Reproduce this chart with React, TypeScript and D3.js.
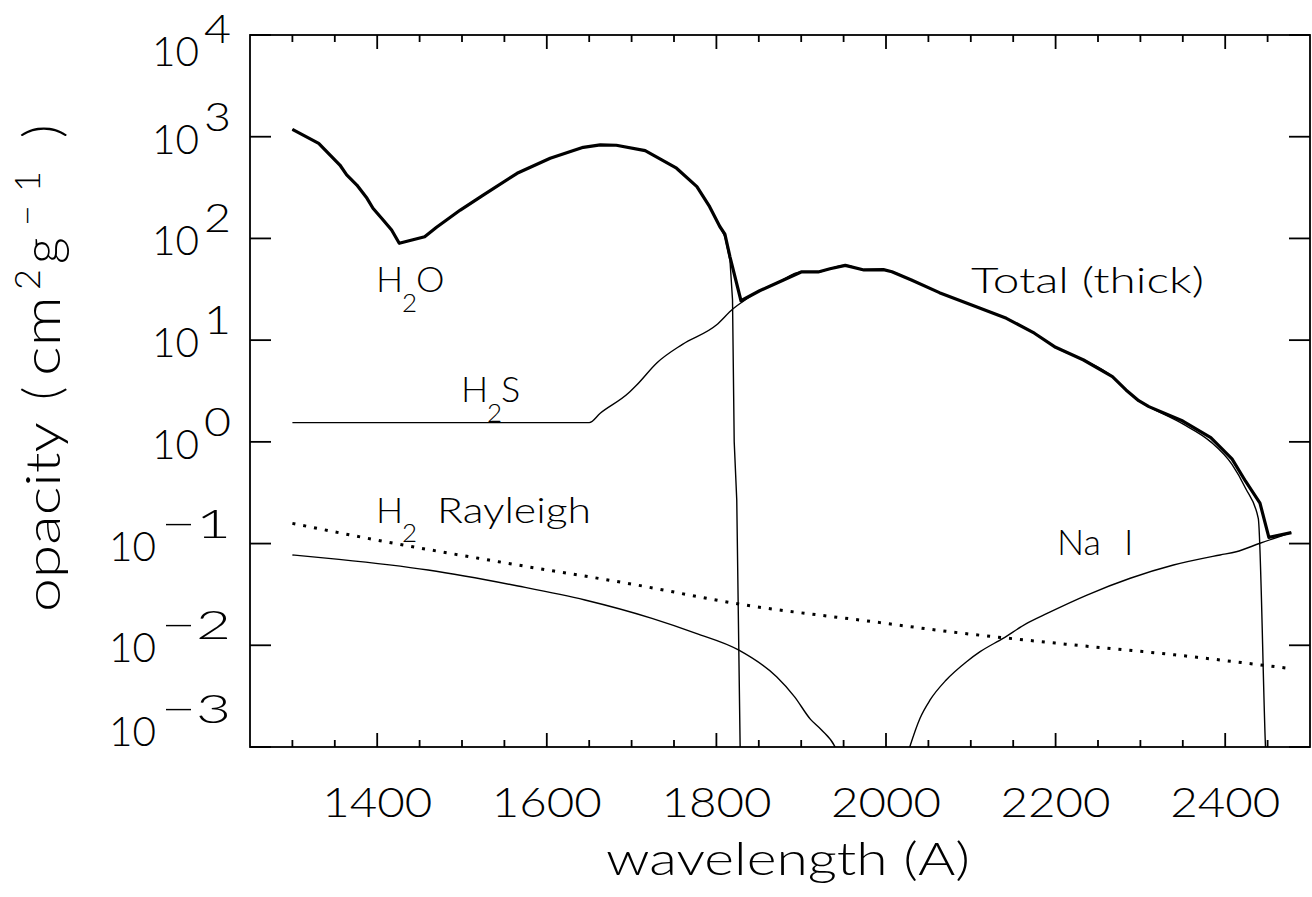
import React from "react";
import * as d3 from "d3";

// ---------- data ----------
const h2oWave = [1300, 1331, 1356, 1364, 1376, 1388, 1395, 1407, 1417, 1426, 1456, 1470, 1498, 1525, 1565, 1604, 1643, 1663, 1682, 1716, 1753, 1777, 1792, 1804, 1810, 1816, 1819, 1821, 1824, 1828, 1830];
const h2oVal = [1183, 861, 527, 421, 335, 248, 198, 152, 121, 89.6, 104, 129, 190, 267, 437, 614, 787, 830, 824, 729, 490, 323, 205, 131, 104, 61, 25, 1.0, 0.27, 0.001, 0.0004];

const h2sWave = [1300, 1650, 1663, 1696, 1706, 1730, 1760, 1800, 1820, 1831, 1851, 1872, 1900, 1920, 1934, 1952, 1974, 1997, 2007, 2030, 2063, 2101, 2142, 2175, 2200, 2233, 2267, 2283, 2298, 2310, 2350, 2383, 2408, 2424, 2439, 2447.5, 2449];
const h2sVal = [1.545, 1.545, 1.91, 3.0, 3.62, 6.0, 9.1, 14.1, 20.5, 23.9, 30.6, 36.7, 46.8, 46.8, 50.4, 54.4, 49, 49.3, 47.1, 39, 29.3, 22.2, 16.4, 11.7, 8.5, 6.38, 4.37, 3.24, 2.54, 2.22, 1.5, 1.0, 0.6, 0.35, 0.177, 0.001, 0.0005];

const naWave = [1300, 1355, 1460, 1566, 1645, 1724, 1776, 1826, 1871, 1892, 1911, 1924, 1940, 1950, 2020, 2028, 2040, 2052, 2071, 2095, 2111, 2138, 2166, 2190, 2237, 2288, 2339, 2394, 2413, 2441, 2478];
const naVal = [0.0773, 0.070, 0.055, 0.0383, 0.0279, 0.0184, 0.0131, 0.0090, 0.0049, 0.00313, 0.00187, 0.00147, 0.001, 0.0006, 0.0006, 0.001, 0.00191, 0.0029, 0.00456, 0.0069, 0.00865, 0.0117, 0.0164, 0.0206, 0.0312, 0.0456, 0.0615, 0.0773, 0.083, 0.1007, 0.128];

const rayWave = [1300, 1400, 1566, 1700, 1826, 1993, 2075, 2200, 2350, 2474];
const rayVal = [0.158, 0.108, 0.0615, 0.040, 0.0255, 0.0167, 0.0136, 0.0105, 0.0079, 0.00594];

const totWave = [1300, 1331, 1356, 1364, 1376, 1388, 1395, 1407, 1417, 1426, 1456, 1470, 1498, 1525, 1565, 1604, 1643, 1663, 1682, 1716, 1753, 1777, 1792, 1804, 1810, 1816, 1829, 1851, 1872, 1900, 1920, 1934, 1952, 1974, 1997, 2007, 2030, 2063, 2101, 2142, 2175, 2200, 2233, 2267, 2283, 2298, 2310, 2350, 2383, 2408, 2424, 2441, 2451.5, 2478];
const totVal = [1183, 861, 527, 421, 335, 248, 198, 152, 121, 89.6, 104, 129, 190, 267, 437, 614, 787, 830, 824, 729, 490, 323, 205, 131, 110, 66, 24.4, 30.6, 36.7, 46.8, 46.8, 50.4, 54.4, 49, 49.3, 47.1, 39, 29.3, 22.2, 16.4, 11.7, 8.5, 6.38, 4.37, 3.24, 2.54, 2.22, 1.6, 1.1, 0.68, 0.41, 0.25, 0.115, 0.128];

const xMajorTicks = [1400, 1600, 1800, 2000, 2200, 2400];
const yExponents = [-3, -2, -1, 0, 1, 2, 3, 4];

// ---------- layout ----------
const W = 1312, H = 897;
const L = 250, R = 1310, T = 35, B = 747;
const FONT = 'Lato, "DejaVu Sans", sans-serif';

export default function App() {
  const x = d3.scaleLinear().domain([1250, 2500]).range([L, R]);
  const y = d3.scaleLog().domain([1e-3, 1e4]).range([B, T]);
  const line = (ws: number[], vs: number[], curve: d3.CurveFactory = d3.curveLinear) =>
    d3.line<number>().curve(curve).x((i) => x(ws[i])).y((i) => y(vs[i]))(ws.map((_, i) => i)) || "";

  const minorTicks = d3.range(1300, 2500, 50).filter((v) => !xMajorTicks.includes(v));

  return (
    <svg width={W} height={H} style={{ display: "block", position: "absolute", left: 0, top: 0, background: "#fff" }}
      fontFamily={FONT} fontWeight={300}>
      <defs>
        <clipPath id="plot">
          <rect x={L} y={T} width={R - L} height={B - T} />
        </clipPath>
      </defs>
      <rect x={0} y={0} width={W} height={H} fill="#fff" />
      <g clipPath="url(#plot)" fill="none" stroke="#000" strokeLinejoin="round">
        <path d={line(naWave, naVal, d3.curveMonotoneX)} strokeWidth={1.4} />
        <path d={line(rayWave, rayVal, d3.curveMonotoneX)} strokeWidth={3} strokeDasharray="3 8" />
        <path d={line(h2sWave, h2sVal, d3.curveMonotoneX)} strokeWidth={1.4} />
        <path d={line(h2oWave, h2oVal)} strokeWidth={1.4} />
        <path d={line(totWave, totVal)} strokeWidth={3.2} />
      </g>
      {/* axes box */}
      <rect x={L} y={T} width={R - L} height={B - T} fill="none" stroke="#000" strokeWidth={1.8} />
      {/* ticks */}
      <g stroke="#000" strokeWidth={1.8}>
        {xMajorTicks.map((t) => (
          <g key={"M" + t}>
            <line x1={x(t)} x2={x(t)} y1={B} y2={B - 14} />
            <line x1={x(t)} x2={x(t)} y1={T} y2={T + 14} />
          </g>
        ))}
        {minorTicks.map((t) => (
          <g key={"m" + t}>
            <line x1={x(t)} x2={x(t)} y1={B} y2={B - 7} />
            <line x1={x(t)} x2={x(t)} y1={T} y2={T + 7} />
          </g>
        ))}
        {yExponents.map((e) => (
          <g key={"y" + e}>
            <line x1={L} x2={L + 21} y1={y(Math.pow(10, e))} y2={y(Math.pow(10, e))} />
            <line x1={R} x2={R - 21} y1={y(Math.pow(10, e))} y2={y(Math.pow(10, e))} />
          </g>
        ))}
      </g>
      {/* x tick labels */}
      {xMajorTicks.map((t) => (
        <text key={"xl" + t} x={x(t)} y={817} textAnchor="middle" fontSize={42}
          textLength={110} lengthAdjust="spacingAndGlyphs">{t}</text>
      ))}
      <text x={788} y={875} textAnchor="middle" fontSize={46} textLength={364} lengthAdjust="spacingAndGlyphs">wavelength (A)</text>
      {/* y tick labels */}
      {yExponents.map((e) => {
        const shift = e === 4 ? 14 : e === -3 ? -18 : 0;
        const ty = y(Math.pow(10, e)) + shift;
        const expStr = e < 0 ? "\u2212" + Math.abs(e) : String(e);
        const expW = e < 0 ? 70 : 27;
        const expX0 = 231 - expW;
        return (
          <g key={"yl" + e}>
            <text x={expX0 - 5} y={ty + 17} textAnchor="end" fontSize={42} textLength={47} lengthAdjust="spacingAndGlyphs">10</text>
            <text x={231} y={ty - 6} textAnchor="end" fontSize={40} textLength={expW} lengthAdjust="spacingAndGlyphs">{expStr}</text>
          </g>
        );
      })}
      {/* y axis title */}
      <text transform="translate(60,612) rotate(-90)" textAnchor="start" fontSize={48}
        textLength={190} lengthAdjust="spacingAndGlyphs">opacity</text>
      <text transform="translate(60,400) rotate(-90)" textAnchor="start" fontSize={52}>
        <tspan x={0}>(</tspan>
        <tspan x={24} textLength={80} lengthAdjust="spacingAndGlyphs">cm</tspan>
        <tspan x={110} dy={-20} fontSize={36}>2</tspan>
        <tspan x={136} dy={20}>g</tspan>
        <tspan x={174} dy={-20} fontSize={36}>{"\u2212"}</tspan>
        <tspan x={208} fontSize={36}>1</tspan>
        <tspan x={262} dy={20}>)</tspan>
      </text>
      {/* curve labels */}
      <g fontSize={36}>
        <text x={376} y={292}>H</text>
        <text x={402} y={312} fontSize={26}>2</text>
        <text x={416} y={292}>O</text>

        <text x={461} y={402}>H</text>
        <text x={487} y={422} fontSize={26}>2</text>
        <text x={501} y={402}>S</text>

        <text x={971} y={293} textLength={233} lengthAdjust="spacingAndGlyphs">Total (thick)</text>

        <text x={1057} y={555}>Na</text>
        <text x={1124} y={555}>I</text>

        <text x={376} y={523}>H</text>
        <text x={402} y={542} fontSize={26}>2</text>
        <text x={437} y={523} textLength={154} lengthAdjust="spacingAndGlyphs">Rayleigh</text>
      </g>
    </svg>
  );
}
